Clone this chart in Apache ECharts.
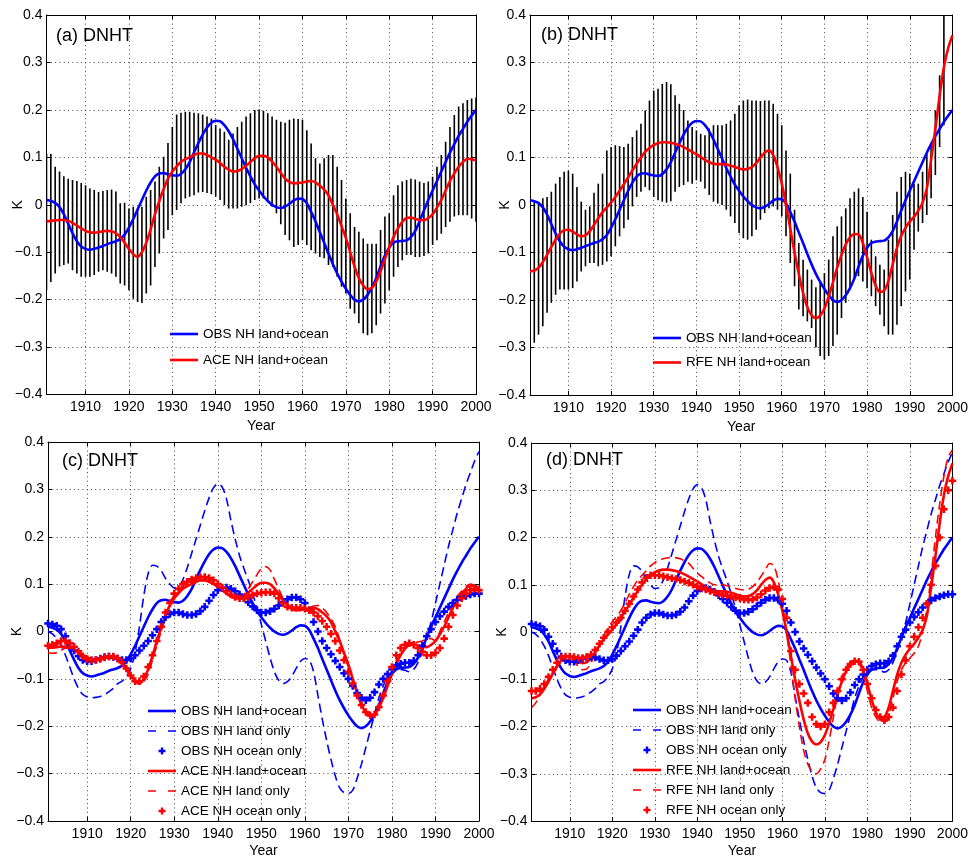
<!DOCTYPE html>
<html><head><meta charset="utf-8">
<script src="https://cdn.jsdelivr.net/npm/echarts@6/dist/echarts.min.js"></script>
<style>html,body{margin:0;padding:0;background:#fff}#chart{width:971px;height:859px}</style>
</head><body><div id="chart"></div>
<script>
// ---------------- DATA (annual, 1901..2000) ----------------
const START_YEAR = 1901;
const X_TICKS = [1910, 1920, 1930, 1940, 1950, 1960, 1970, 1980, 1990, 2000];

const OBS_LO = [
  0.010, 0.008, 0.004, -0.005, -0.020, -0.040, -0.060, -0.077, -0.088, -0.093,
  -0.095, -0.093, -0.090, -0.087, -0.083, -0.080, -0.077, -0.072, -0.063, -0.048,
  -0.030, -0.010, 0.010, 0.030, 0.047, 0.060, 0.066, 0.067, 0.064, 0.062,
  0.061, 0.065, 0.075, 0.090, 0.110, 0.130, 0.148, 0.163, 0.173, 0.177,
  0.176, 0.168, 0.155, 0.138, 0.118, 0.098, 0.078, 0.060, 0.043, 0.030,
  0.018, 0.008, 0.000, -0.005, -0.007, -0.004, 0.002, 0.009, 0.013, 0.012,
  0.003, -0.015, -0.035, -0.058, -0.080, -0.103, -0.125, -0.145, -0.162, -0.177,
  -0.190, -0.200, -0.204, -0.200, -0.190, -0.175, -0.155, -0.130, -0.107, -0.090,
  -0.080, -0.077, -0.076, -0.075, -0.068, -0.055, -0.035, -0.012, 0.010, 0.030,
  0.050, 0.070, 0.090, 0.110, 0.128, 0.145, 0.160, 0.175, 0.188, 0.200];

const OBS_LAND = [
  0.000, -0.005, -0.015, -0.030, -0.050, -0.075, -0.100, -0.120, -0.133, -0.138,
  -0.140, -0.139, -0.137, -0.133, -0.127, -0.120, -0.110, -0.105, -0.095, -0.078,
  -0.045, 0.010, 0.075, 0.122, 0.140, 0.138, 0.128, 0.112, 0.100, 0.092,
  0.094, 0.110, 0.135, 0.165, 0.195, 0.225, 0.255, 0.282, 0.303, 0.312,
  0.305, 0.280, 0.235, 0.195, 0.160, 0.133, 0.108, 0.080, 0.050, 0.015,
  -0.020, -0.055, -0.085, -0.103, -0.110, -0.106, -0.095, -0.078, -0.063, -0.057,
  -0.060, -0.085, -0.135, -0.185, -0.230, -0.270, -0.305, -0.330, -0.340, -0.342,
  -0.335, -0.310, -0.280, -0.245, -0.210, -0.175, -0.140, -0.115, -0.095, -0.085,
  -0.080, -0.080, -0.082, -0.085, -0.080, -0.065, -0.040, -0.010, 0.020, 0.060,
  0.100, 0.140, 0.180, 0.215, 0.250, 0.280, 0.310, 0.335, 0.360, 0.380];

const OBS_OCEAN = [
  0.017, 0.015, 0.012, 0.005, -0.010, -0.025, -0.040, -0.052, -0.060, -0.063,
  -0.063, -0.060, -0.057, -0.054, -0.053, -0.054, -0.057, -0.060, -0.060, -0.057,
  -0.050, -0.040, -0.030, -0.020, -0.008, 0.005, 0.020, 0.030, 0.037, 0.040,
  0.040, 0.037, 0.035, 0.035, 0.037, 0.043, 0.052, 0.065, 0.077, 0.087,
  0.092, 0.093, 0.090, 0.085, 0.078, 0.070, 0.062, 0.053, 0.045, 0.040,
  0.040, 0.043, 0.048, 0.055, 0.062, 0.068, 0.072, 0.072, 0.068, 0.060,
  0.045, 0.020, 0.000, -0.020, -0.035, -0.048, -0.062, -0.075, -0.088, -0.100,
  -0.115, -0.130, -0.140, -0.145, -0.140, -0.128, -0.112, -0.100, -0.090, -0.080,
  -0.072, -0.068, -0.066, -0.066, -0.062, -0.050, -0.030, -0.010, 0.005, 0.020,
  0.032, 0.042, 0.052, 0.060, 0.067, 0.072, 0.075, 0.078, 0.080, 0.080];

const ACE_LO = [
  -0.035, -0.034, -0.033, -0.032, -0.032, -0.034, -0.038, -0.044, -0.050, -0.055,
  -0.058, -0.059, -0.058, -0.056, -0.055, -0.056, -0.060, -0.068, -0.080, -0.093,
  -0.104, -0.110, -0.100, -0.080, -0.052, -0.020, 0.008, 0.033, 0.055, 0.070,
  0.081, 0.090, 0.096, 0.100, 0.105, 0.108, 0.108, 0.105, 0.100, 0.095,
  0.088, 0.080, 0.074, 0.070, 0.071, 0.075, 0.082, 0.090, 0.098, 0.103,
  0.103, 0.100, 0.091, 0.080, 0.067, 0.055, 0.048, 0.045, 0.046, 0.047,
  0.049, 0.050, 0.047, 0.040, 0.032, 0.020, 0.000, -0.020, -0.045, -0.070,
  -0.100, -0.130, -0.155, -0.170, -0.178, -0.175, -0.162, -0.140, -0.115, -0.090,
  -0.068, -0.050, -0.036, -0.028, -0.027, -0.030, -0.032, -0.033, -0.028, -0.020,
  -0.006, 0.010, 0.030, 0.050, 0.066, 0.080, 0.090, 0.097, 0.096, 0.093];

const ACE_LAND = [
  -0.045, -0.046, -0.045, -0.040, -0.035, -0.036, -0.040, -0.045, -0.050, -0.056,
  -0.060, -0.061, -0.060, -0.057, -0.055, -0.056, -0.060, -0.066, -0.075, -0.088,
  -0.100, -0.110, -0.105, -0.090, -0.060, -0.030, 0.000, 0.030, 0.060, 0.078,
  0.090, 0.096, 0.100, 0.105, 0.110, 0.112, 0.110, 0.105, 0.100, 0.093,
  0.085, 0.079, 0.075, 0.070, 0.070, 0.078, 0.090, 0.105, 0.120, 0.133,
  0.137, 0.130, 0.110, 0.090, 0.070, 0.058, 0.050, 0.046, 0.045, 0.047,
  0.050, 0.054, 0.055, 0.050, 0.040, 0.027, 0.010, -0.018, -0.050, -0.075,
  -0.100, -0.125, -0.150, -0.170, -0.180, -0.175, -0.160, -0.135, -0.110, -0.085,
  -0.060, -0.045, -0.035, -0.028, -0.025, -0.022, -0.020, -0.015, -0.015, -0.020,
  0.000, 0.020, 0.040, 0.060, 0.075, 0.085, 0.095, 0.100, 0.097, 0.090];

const ACE_OCEAN = [
  -0.030, -0.028, -0.025, -0.020, -0.020, -0.025, -0.032, -0.042, -0.052, -0.058,
  -0.060, -0.060, -0.058, -0.055, -0.053, -0.053, -0.057, -0.065, -0.078, -0.093,
  -0.105, -0.105, -0.095, -0.075, -0.050, -0.020, 0.010, 0.040, 0.060, 0.080,
  0.090, 0.100, 0.105, 0.110, 0.113, 0.115, 0.115, 0.113, 0.108, 0.100,
  0.093, 0.085, 0.078, 0.073, 0.070, 0.070, 0.073, 0.077, 0.080, 0.082,
  0.083, 0.083, 0.080, 0.070, 0.060, 0.052, 0.050, 0.050, 0.050, 0.048,
  0.045, 0.040, 0.032, 0.022, 0.010, -0.005, -0.020, -0.040, -0.060, -0.085,
  -0.110, -0.135, -0.155, -0.170, -0.177, -0.175, -0.160, -0.135, -0.105, -0.075,
  -0.050, -0.035, -0.028, -0.025, -0.028, -0.035, -0.043, -0.050, -0.050, -0.045,
  -0.035, -0.015, 0.010, 0.035, 0.055, 0.070, 0.080, 0.087, 0.090, 0.087];

const RFE_LO = [
  -0.140, -0.138, -0.132, -0.120, -0.105, -0.088, -0.073, -0.060, -0.053, -0.052,
  -0.056, -0.062, -0.066, -0.064, -0.055, -0.042, -0.028, -0.015, -0.005, 0.005,
  0.017, 0.030, 0.044, 0.058, 0.073, 0.087, 0.100, 0.112, 0.120, 0.126,
  0.130, 0.132, 0.132, 0.131, 0.129, 0.126, 0.122, 0.117, 0.112, 0.107,
  0.101, 0.095, 0.090, 0.087, 0.086, 0.086, 0.085, 0.083, 0.080, 0.077,
  0.075, 0.076, 0.080, 0.088, 0.100, 0.110, 0.115, 0.105, 0.080, 0.045,
  0.000, -0.050, -0.100, -0.145, -0.185, -0.215, -0.232, -0.238, -0.233, -0.218,
  -0.193, -0.163, -0.132, -0.105, -0.083, -0.068, -0.061, -0.062, -0.080, -0.110,
  -0.143, -0.170, -0.183, -0.180, -0.160, -0.125, -0.090, -0.065, -0.048, -0.035,
  -0.025, -0.012, 0.005, 0.035, 0.095, 0.160, 0.230, 0.290, 0.330, 0.357];

const RFE_LAND = [
  -0.160, -0.150, -0.133, -0.115, -0.100, -0.085, -0.070, -0.057, -0.050, -0.053,
  -0.062, -0.073, -0.080, -0.078, -0.065, -0.046, -0.027, -0.008, 0.008, 0.022,
  0.033, 0.045, 0.062, 0.080, 0.096, 0.110, 0.120, 0.130, 0.140, 0.147,
  0.152, 0.155, 0.157, 0.158, 0.157, 0.155, 0.150, 0.145, 0.135, 0.125,
  0.117, 0.110, 0.104, 0.100, 0.100, 0.100, 0.098, 0.095, 0.092, 0.090,
  0.089, 0.090, 0.096, 0.105, 0.118, 0.132, 0.145, 0.140, 0.110, 0.060,
  0.000, -0.070, -0.140, -0.200, -0.250, -0.280, -0.295, -0.300, -0.290, -0.270,
  -0.230, -0.180, -0.130, -0.095, -0.075, -0.064, -0.060, -0.065, -0.090, -0.125,
  -0.160, -0.180, -0.190, -0.190, -0.175, -0.140, -0.105, -0.080, -0.065, -0.055,
  -0.045, -0.030, 0.000, 0.050, 0.120, 0.200, 0.270, 0.330, 0.370, 0.385];

const RFE_OCEAN = [
  -0.125, -0.125, -0.120, -0.110, -0.095, -0.080, -0.065, -0.055, -0.052, -0.052,
  -0.053, -0.055, -0.055, -0.053, -0.048, -0.038, -0.025, -0.012, 0.000, 0.010,
  0.020, 0.030, 0.045, 0.060, 0.075, 0.090, 0.105, 0.115, 0.120, 0.120,
  0.120, 0.118, 0.116, 0.114, 0.112, 0.110, 0.107, 0.104, 0.100, 0.096,
  0.093, 0.090, 0.087, 0.084, 0.081, 0.079, 0.077, 0.075, 0.073, 0.071,
  0.069, 0.068, 0.069, 0.073, 0.080, 0.088, 0.093, 0.095, 0.090, 0.070,
  0.030, -0.040, -0.080, -0.110, -0.130, -0.150, -0.180, -0.195, -0.200, -0.195,
  -0.170, -0.150, -0.125, -0.100, -0.080, -0.068, -0.062, -0.063, -0.080, -0.110,
  -0.140, -0.165, -0.180, -0.187, -0.180, -0.160, -0.125, -0.090, -0.060, -0.030,
  -0.010, 0.010, 0.030, 0.060, 0.100, 0.140, 0.200, 0.260, 0.300, 0.320];

// uncertainty bars (low / high), panel (a)
const ERR_A_LO = [
  -0.180, -0.163, -0.145, -0.130, -0.127, -0.124, -0.138, -0.145, -0.152, -0.152,
  -0.152, -0.148, -0.141, -0.138, -0.141, -0.145, -0.152, -0.166, -0.170, -0.180,
  -0.198, -0.205, -0.207, -0.187, -0.170, -0.131, -0.103, -0.071, -0.053, -0.022,
  -0.011, 0.003, 0.013, 0.017, 0.020, 0.026, 0.027, 0.025, 0.022, 0.017,
  0.010, -0.001, -0.008, -0.008, -0.008, -0.004, -0.001, 0.003, 0.010, 0.013,
  0.013, 0.010, -0.004, -0.018, -0.041, -0.064, -0.075, -0.089, -0.085, -0.075,
  -0.085, -0.096, -0.103, -0.110, -0.113, -0.127, -0.131, -0.152, -0.173, -0.187,
  -0.219, -0.229, -0.250, -0.271, -0.275, -0.271, -0.254, -0.229, -0.208, -0.180,
  -0.152, -0.131, -0.117, -0.106, -0.106, -0.110, -0.110, -0.108, -0.103, -0.085,
  -0.075, -0.061, -0.047, -0.036, -0.025, -0.022, -0.022, -0.022, -0.029, -0.036];
const ERR_A_HI = [
  0.108, 0.107, 0.080, 0.070, 0.060, 0.055, 0.052, 0.050, 0.046, 0.041,
  0.034, 0.031, 0.027, 0.029, 0.031, 0.032, 0.028, 0.003, 0.004, -0.008,
  -0.004, -0.008, -0.004, 0.017, 0.031, 0.049, 0.080, 0.101, 0.130, 0.164,
  0.190, 0.194, 0.196, 0.196, 0.194, 0.193, 0.190, 0.186, 0.182, 0.168,
  0.161, 0.154, 0.137, 0.150, 0.164, 0.175, 0.186, 0.193, 0.200, 0.201,
  0.198, 0.193, 0.186, 0.179, 0.175, 0.173, 0.179, 0.182, 0.181, 0.179,
  0.157, 0.129, 0.098, 0.087, 0.098, 0.105, 0.105, 0.080, 0.052, 0.013,
  -0.018, -0.047, -0.057, -0.071, -0.082, -0.082, -0.082, -0.053, -0.025, -0.018,
  0.020, 0.041, 0.049, 0.052, 0.055, 0.053, 0.049, 0.046, 0.049, 0.059,
  0.080, 0.105, 0.133, 0.164, 0.189, 0.207, 0.214, 0.221, 0.224, 0.226];

// uncertainty bars (low / high), panel (b)
const ERR_B_LO = [
  null, -0.290, -0.273, -0.255, -0.227, -0.206, -0.189, -0.178, -0.178, -0.178,
  -0.175, -0.161, -0.140, -0.129, -0.122, -0.122, -0.129, -0.126, -0.119, -0.108,
  -0.087, -0.066, -0.049, -0.031, -0.003, 0.017, 0.028, 0.038, 0.031, 0.017,
  0.010, 0.007, 0.005, 0.008, 0.028, 0.038, 0.042, 0.049, 0.045, 0.052,
  0.049, 0.035, 0.021, 0.007, 0.003, 0.000, -0.010, -0.024, -0.038, -0.059,
  -0.070, -0.073, -0.066, -0.052, -0.031, -0.017, -0.007, -0.003, -0.010, -0.024,
  -0.066, -0.122, -0.171, -0.220, -0.234, -0.245, -0.259, -0.300, -0.318, -0.325,
  -0.318, -0.297, -0.273, -0.238, -0.206, -0.178, -0.157, -0.150, -0.161, -0.175,
  -0.192, -0.213, -0.231, -0.255, -0.273, -0.273, -0.252, -0.213, -0.182, -0.157,
  -0.094, -0.056, -0.038, -0.021, 0.014, 0.063, 0.122, 0.168, null, null];
const ERR_B_HI = [
  null, 0.010, 0.007, 0.014, 0.017, 0.028, 0.045, 0.059, 0.070, 0.072,
  0.066, 0.038, 0.007, -0.010, -0.003, 0.026, 0.045, 0.066, 0.115, 0.122,
  0.126, 0.124, 0.122, 0.129, 0.143, 0.157, 0.171, 0.199, 0.220, 0.241,
  0.245, 0.255, 0.259, 0.254, 0.231, 0.213, 0.200, 0.178, 0.164, 0.157,
  0.150, 0.147, 0.161, 0.168, 0.168, 0.168, 0.171, 0.178, 0.192, 0.210,
  0.220, 0.222, 0.220, 0.220, 0.219, 0.220, 0.220, 0.213, 0.192, 0.168,
  0.115, 0.066, -0.010, -0.080, -0.115, -0.136, -0.157, -0.173, -0.164, -0.143,
  -0.115, -0.066, -0.045, -0.024, -0.007, 0.014, 0.028, 0.035, 0.017, -0.014,
  -0.073, -0.108, -0.126, -0.136, -0.073, -0.021, 0.028, 0.059, 0.070, 0.066,
  0.045, 0.045, 0.070, 0.108, 0.129, 0.199, 0.273, 0.450, null, null];

const PANEL_TITLES = ['(a) DNHT', '(b) DNHT', '(c) DNHT', '(d) DNHT'];
const N_LO = {obs: 'OBS NH land+ocean', ace: 'ACE NH land+ocean', rfe: 'RFE NH land+ocean'};
const N_LAND = {obs: 'OBS NH land only', ace: 'ACE NH land only', rfe: 'RFE NH land only'};
const N_OCEAN = {obs: 'OBS NH ocean only', ace: 'ACE NH ocean only', rfe: 'RFE NH ocean only'};

// ---------------- STYLE / LAYOUT ----------------
const FONT = "'Liberation Sans', sans-serif";
const BLUE = '#0000ff', RED = '#ff0000';
const PLUS = 'path://M3.3,0 H6.7 V3.3 H10 V6.7 H6.7 V10 H3.3 V6.7 H0 V3.3 H3.3 Z';
const ICON_SOLID = 'path://M0,0 H28 V2.6 H0 Z';
const ICON_DASH = 'path://M0,0 H8 V1.7 H0 Z M20,0 H28 V1.7 H20 Z';

const GRIDS = [
  {left: 46.5, top: 15, width: 429.5, height: 379.5},
  {left: 530, top: 15, width: 428.7, height: 380},
  {left: 48, top: 442, width: 431, height: 381},
  {left: 531.5, top: 443, width: 426, height: 380}
];
const K_GAP = [21, 18, 23.5, 22];
const YEAR_GAP = [25, 25, 23, 23];

const toXY = arr => arr.map((v, i) => v == null ? null : [START_YEAR + i, v]).filter(d => d);
const toErr = (lo, hi) => lo.map((v, i) => (v == null || hi[i] == null) ? null : [START_YEAR + i, v, hi[i]]).filter(d => d);
const fmtY = v => {
  const r = Math.round(v * 10) / 10;
  if (Math.abs(r) < 1e-9) return '0';
  return (r < 0 ? '\u2212' : '') + Math.abs(r).toFixed(1);
};
const lblStyle = {color: '#000', fontFamily: FONT, fontSize: 14};
const dotted = {show: true, lineStyle: {color: '#444', type: [1, 3.3], width: 1}};
const boxLine = {show: true, onZero: false, lineStyle: {color: '#000', width: 1}};

const xAxis = [], yAxis = [];
GRIDS.forEach((g, p) => {
  xAxis.push({
    type: 'value', gridIndex: p, min: 1901, max: 2000, splitNumber: 10, position: 'bottom',
    name: 'Year', nameLocation: 'middle', nameGap: YEAR_GAP[p], nameTextStyle: lblStyle, nameMoveOverlap: false,
    axisLine: boxLine,
    axisTick: {show: true, inside: true, length: 4, customValues: X_TICKS, lineStyle: {color: '#000'}},
    axisLabel: Object.assign({customValues: X_TICKS, margin: 6, formatter: v => String(v)}, lblStyle),
    splitLine: dotted
  });
  xAxis.push({
    type: 'value', gridIndex: p, min: 1901, max: 2000, splitNumber: 10, position: 'top',
    axisLine: boxLine,
    axisTick: {show: true, inside: true, length: 4, customValues: X_TICKS, lineStyle: {color: '#000'}},
    axisLabel: {show: false}, splitLine: {show: false}
  });
  yAxis.push({
    type: 'value', gridIndex: p, min: -0.4, max: 0.4, interval: 0.1, position: 'left',
    name: 'K', nameLocation: 'middle', nameGap: K_GAP[p], nameRotate: 90, nameTextStyle: lblStyle, nameMoveOverlap: false,
    axisLine: boxLine,
    axisTick: {show: true, inside: true, length: 4, lineStyle: {color: '#000'}},
    axisLabel: Object.assign({margin: 4, formatter: fmtY}, lblStyle),
    splitLine: dotted
  });
  yAxis.push({
    type: 'value', gridIndex: p, min: -0.4, max: 0.4, interval: 0.1, position: 'right',
    axisLine: boxLine,
    axisTick: {show: true, inside: true, length: 4, lineStyle: {color: '#000'}},
    axisLabel: {show: false}, splitLine: {show: false}
  });
});

function errSeries(p, lo, hi) {
  return {
    type: 'custom', name: 'err' + p, xAxisIndex: 2 * p, yAxisIndex: 2 * p, clip: true, silent: true, z: 1,
    data: toErr(lo, hi),
    encode: {x: 0, y: [1, 2]},
    renderItem: (params, api) => {
      const a = api.coord([api.value(0), api.value(1)]);
      const b = api.coord([api.value(0), api.value(2)]);
      return {type: 'line', shape: {x1: a[0], y1: a[1], x2: b[0], y2: b[1]},
              style: {stroke: '#000', lineWidth: 1.6}};
    }
  };
}
function solid(p, name, vals, color) {
  return {type: 'line', name, xAxisIndex: 2 * p, yAxisIndex: 2 * p, data: toXY(vals), smooth: 0.3,
    symbol: 'none', color, lineStyle: {color, width: 2.6}, z: 3};
}
function dashed(p, name, vals, color) {
  return {type: 'line', name, xAxisIndex: 2 * p, yAxisIndex: 2 * p, data: toXY(vals), smooth: 0.3,
    symbol: 'none', color, lineStyle: {color, width: 1.6, type: [9, 5]}, z: 3};
}
function pluses(p, name, vals, color) {
  return {type: 'scatter', name, xAxisIndex: 2 * p, yAxisIndex: 2 * p, data: toXY(vals),
    symbol: PLUS, symbolSize: 7.5, color, itemStyle: {color, opacity: 1}, z: 4};
}

const series = [
  errSeries(0, ERR_A_LO, ERR_A_HI),
  solid(0, N_LO.obs, OBS_LO, BLUE),
  solid(0, N_LO.ace, ACE_LO, RED),
  errSeries(1, ERR_B_LO, ERR_B_HI),
  solid(1, N_LO.obs, OBS_LO, BLUE),
  solid(1, N_LO.rfe, RFE_LO, RED),
  solid(2, N_LO.obs, OBS_LO, BLUE),
  dashed(2, N_LAND.obs, OBS_LAND, BLUE),
  pluses(2, N_OCEAN.obs, OBS_OCEAN, BLUE),
  solid(2, N_LO.ace, ACE_LO, RED),
  dashed(2, N_LAND.ace, ACE_LAND, RED),
  pluses(2, N_OCEAN.ace, ACE_OCEAN, RED),
  solid(3, N_LO.obs, OBS_LO, BLUE),
  dashed(3, N_LAND.obs, OBS_LAND, BLUE),
  pluses(3, N_OCEAN.obs, OBS_OCEAN, BLUE),
  solid(3, N_LO.rfe, RFE_LO, RED),
  dashed(3, N_LAND.rfe, RFE_LAND, RED),
  pluses(3, N_OCEAN.rfe, RFE_OCEAN, RED)
];

const legBase = {orient: 'vertical', itemWidth: 28, itemHeight: 7, padding: 0, selectedMode: false,
  textStyle: {color: '#000', fontFamily: FONT, fontSize: 13.5}};
const six = m => [
  {name: N_LO.obs, icon: ICON_SOLID}, {name: N_LAND.obs, icon: ICON_DASH}, {name: N_OCEAN.obs, icon: PLUS},
  {name: N_LO[m], icon: ICON_SOLID}, {name: N_LAND[m], icon: ICON_DASH}, {name: N_OCEAN[m], icon: PLUS}];
const legend = [
  Object.assign({left: 170, top: 327, itemGap: 12, data: [{name: N_LO.obs, icon: ICON_SOLID}, {name: N_LO.ace, icon: ICON_SOLID}]}, legBase),
  Object.assign({left: 653, top: 331, itemGap: 10.5, data: [{name: N_LO.obs, icon: ICON_SOLID}, {name: N_LO.rfe, icon: ICON_SOLID}]}, legBase),
  Object.assign({left: 148, top: 704, itemGap: 6, data: six('ace')}, legBase),
  Object.assign({left: 633, top: 703, itemGap: 6, data: six('rfe')}, legBase)
];

const TITLE_POS = [[56, 27], [541, 26], [62, 452], [546, 451]];
const title = PANEL_TITLES.map((t, i) => ({text: t, left: TITLE_POS[i][0], top: TITLE_POS[i][1], padding: 0,
  textStyle: {fontFamily: FONT, fontSize: 18, fontWeight: 'normal', color: '#000'}}));

const chart = echarts.init(document.getElementById('chart'), null, {renderer: 'canvas'});
chart.setOption({
  backgroundColor: '#fff', animation: false,
  title, legend, grid: GRIDS, xAxis, yAxis, series
});
</script>
</body></html>
